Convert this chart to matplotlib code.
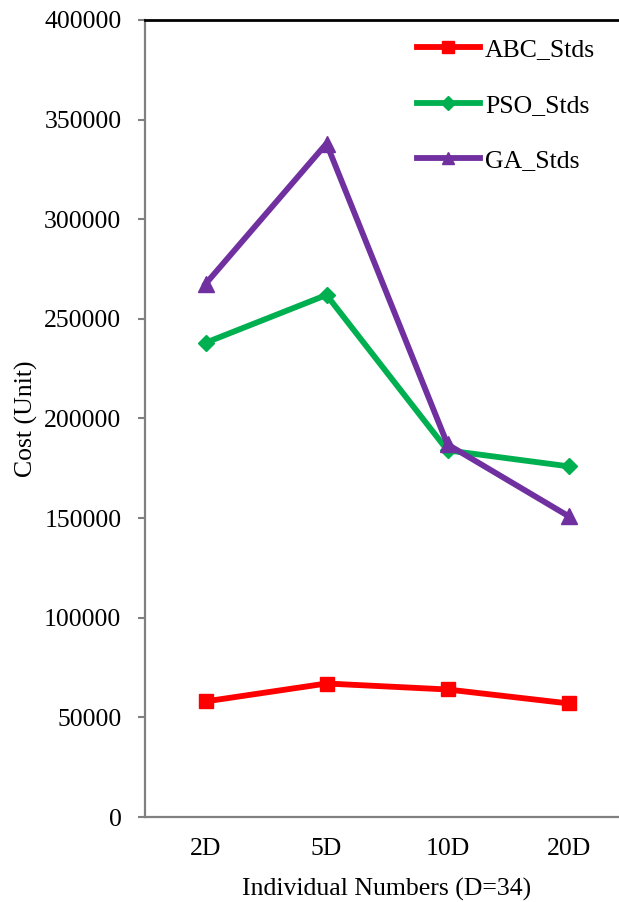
import matplotlib
matplotlib.use("Agg")
import matplotlib.pyplot as plt

plt.rcParams['font.family'] = ['Liberation Serif', 'DejaVu Serif']

categories = ["2D", "5D", "10D", "20D"]
abc_stds = [58000, 67000, 64000, 57000]
pso_stds = [238000, 262000, 184000, 176000]
ga_stds = [267500, 338000, 187000, 151000]
y_ticks = [0, 50000, 100000, 150000, 200000, 250000, 300000, 350000, 400000]

fig = plt.figure(figsize=(6.19, 9.02), dpi=100)
ax = fig.add_axes([145 / 619, 1 - 817 / 902, (629 - 145) / 619, 797 / 902])

x = list(range(len(categories)))
ax.plot(x, abc_stds, color="#FF0000", lw=4.2, marker="s", ms=10.5, label="ABC_Stds")
ax.plot(x, pso_stds, color="#00B050", lw=4.2, marker="D", ms=8.5, label="PSO_Stds")
ax.plot(x, ga_stds, color="#7030A0", lw=4.2, marker="^", ms=11.5, label="GA_Stds")

ax.set_xlim(-0.5, 3.5)
ax.set_ylim(0, 400000)
ax.set_xticks(x)
ax.set_xticklabels(categories)
ax.set_yticks(y_ticks)
ax.set_yticklabels([str(v) for v in y_ticks])

ax.tick_params(axis="y", direction="out", length=5, width=1.5, color="#808080",
               pad=12, labelsize=18.5)
ax.tick_params(axis="x", length=0, pad=15, labelsize=18.5)

for side in ("left", "bottom"):
    ax.spines[side].set_color("#808080")
    ax.spines[side].set_linewidth(1.6)
ax.spines["top"].set_color("black")
ax.spines["top"].set_linewidth(2)
ax.spines["right"].set_visible(False)

ax.set_ylabel("Cost (Unit)", fontsize=18.5)
ax.yaxis.set_label_coords(-0.222, 0.5)
ax.set_xlabel("Individual Numbers (D=34)", fontsize=18.5, labelpad=13)

leg = ax.legend(loc="upper left", bbox_to_anchor=(417 / 619, 1 - 38 / 902),
                bbox_transform=fig.transFigure, frameon=False, fontsize=18.5,
                handlelength=2.45, handletextpad=0.2, labelspacing=1.27,
                borderpad=0, borderaxespad=0, markerscale=0.8)

fig.savefig("out.png", dpi=100)
